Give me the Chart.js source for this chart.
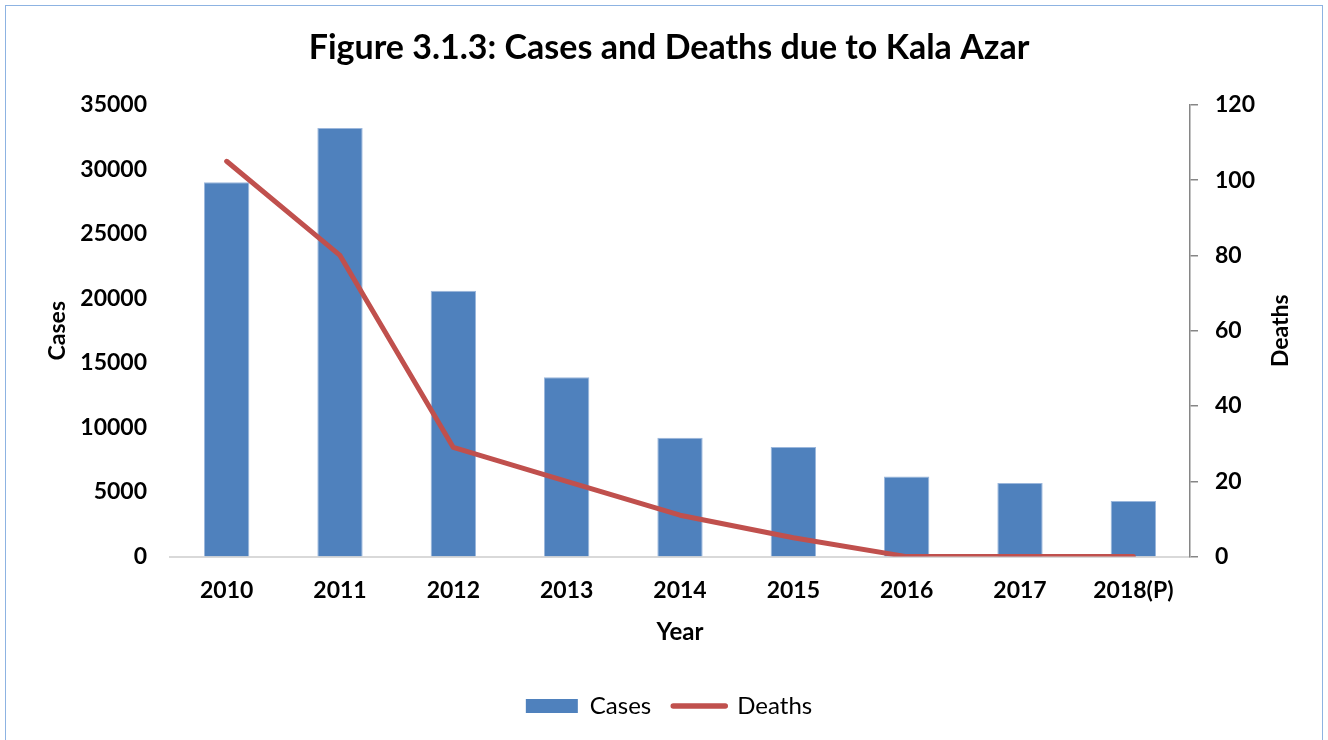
<!DOCTYPE html>
<html>
<head>
<meta charset="utf-8">
<script src="https://cdn.jsdelivr.net/npm/chart.js@4"></script>
<style>
  html, body { margin: 0; padding: 0; background: #fff; }
  #wrap { position: relative; width: 1328px; height: 740px; }
  #frame { position: absolute; left: 5px; top: 5px; width: 1316px; height: 760px; border: 1px solid #8db3e2; }
  canvas { position: absolute; left: 0; top: 0; }
</style>
</head>
<body>
<div id="wrap">
  <div id="frame"></div>
  <canvas id="kalaChart" width="1328" height="740"></canvas>
</div>
<script>
// Kala Azar cases (bars, left axis) and deaths (line, right axis)
var years = ['2010', '2011', '2012', '2013', '2014', '2015', '2016', '2017', '2018(P)'];
var cases = [29000, 33200, 20600, 13900, 9200, 8500, 6200, 5700, 4300];
var deaths = [105, 80, 29, 20, 11, 5, 0, 0, 0];

Chart.defaults.font.family = 'Lato, "Open Sans", sans-serif';
Chart.defaults.color = '#000';

function plain(v) { return String(v); }

// right axis title reads bottom-to-top like the left one
var rightTitle = {
    id: 'rightTitle',
    afterDraw: function(chart) {
        var s = chart.scales.y2;
        var c = chart.ctx;
        c.save();
        c.translate(s.right - 4 - 23 * 1.2 / 2, (s.top + s.bottom) / 2);
        c.rotate(-Math.PI / 2);
        c.font = 'bold 23px Lato, "Open Sans", sans-serif';
        c.fillStyle = '#000';
        c.textAlign = 'center';
        c.textBaseline = 'middle';
        c.fillText('Deaths', 0, 0);
        c.restore();
    }
};

var ctx = document.getElementById('kalaChart').getContext('2d');
var kalaChart = new Chart(ctx, {
    type: 'bar',
    data: {
        labels: years,
        datasets: [{
            type: 'line',
            label: 'Deaths',
            data: deaths,
            yAxisID: 'y2',
            borderColor: '#c0504d',
            backgroundColor: '#c0504d',
            borderWidth: 5,
            borderCapStyle: 'round',
            borderJoinStyle: 'round',
            pointRadius: 0,
            tension: 0,
            order: 0
        }, {
            type: 'bar',
            label: 'Cases',
            data: cases,
            yAxisID: 'y',
            backgroundColor: '#4f81bd',
            borderColor: '#9bb7dc',
            borderWidth: 1,
            borderSkipped: 'bottom',
            barPercentage: 0.4,
            categoryPercentage: 1.0,
            order: 1
        }]
    },
    options: {
        responsive: false,
        animation: false,
        layout: {
            padding: { left: 40, right: 30, top: 0, bottom: 12 }
        },
        plugins: {
            title: {
                display: true,
                text: 'Figure 3.1.3: Cases and Deaths due to Kala Azar',
                font: { size: 34, weight: 'bold' },
                padding: { top: 28, bottom: 36 }
            },
            legend: {
                position: 'bottom',
                reverse: true,
                labels: {
                    font: { size: 24 },
                    usePointStyle: true,
                    pointStyleWidth: 52,
                    boxHeight: 14,
                    padding: 22,
                    generateLabels: function(chart) {
                        var items = Chart.defaults.plugins.legend.labels.generateLabels(chart);
                        items.forEach(function(it) {
                            if (it.text === 'Deaths') {
                                it.pointStyle = 'line';
                                it.strokeStyle = '#c0504d';
                                it.lineWidth = 5.5;
                                it.lineCap = 'round';
                            } else {
                                it.pointStyle = 'rect';
                                it.fillStyle = '#4f81bd';
                                it.lineWidth = 0;
                            }
                        });
                        return items;
                    }
                }
            },
            tooltip: { enabled: false }
        },
        scales: {
            x: {
                grid: { display: false, drawTicks: false },
                border: { display: true, color: '#d9d9d9', width: 2 },
                ticks: { padding: 20, font: { size: 23, weight: 'bold' } },
                title: {
                    display: true,
                    text: 'Year',
                    font: { size: 24, weight: 'bold' },
                    padding: { top: -6, bottom: 25 }
                }
            },
            y: {
                position: 'left',
                min: 0,
                max: 35000,
                grid: { display: false, drawTicks: false },
                border: { display: false },
                ticks: { stepSize: 5000, padding: 23, callback: plain, font: { size: 23, weight: 'bold' } },
                title: {
                    display: true,
                    text: 'Cases',
                    font: { size: 23, weight: 'bold' },
                    padding: { top: 4, bottom: 4 }
                },
                afterFit: function(scale) { scale.width = 130; }
            },
            y2: {
                position: 'right',
                min: 0,
                max: 120,
                grid: { drawOnChartArea: false, drawTicks: true, tickLength: 8, color: '#868686', lineWidth: 1.5 },
                border: { display: true, color: '#868686', width: 1.5 },
                ticks: { stepSize: 20, padding: 17, callback: plain, font: { size: 23, weight: 'bold' } },
                title: { display: false },
                afterFit: function(scale) { scale.width = 108; }
            }
        }
    },
    plugins: [rightTitle]
});
</script>
</body>
</html>
